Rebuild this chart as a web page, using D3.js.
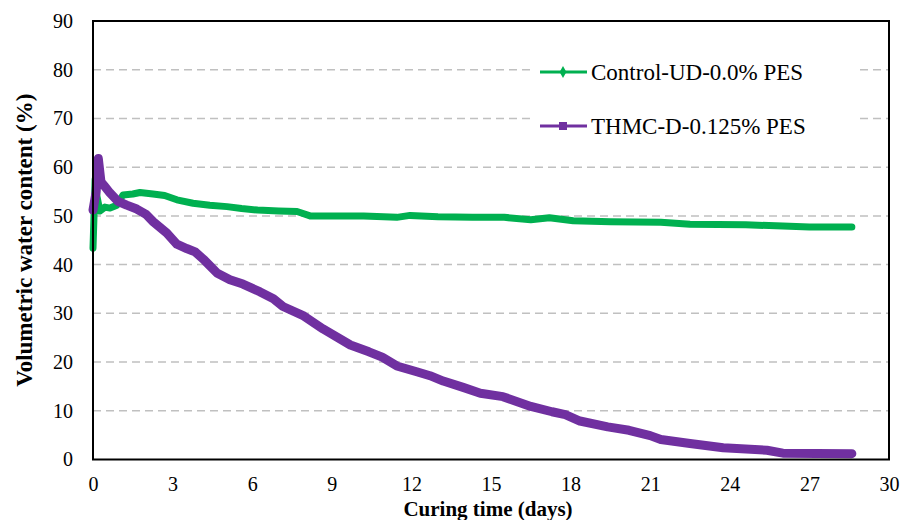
<!DOCTYPE html>
<html>
<head>
<script src="https://d3js.org/d3.v7.min.js"></script>
<style>
  body { margin: 0; background: #fff; }
  .grid line { stroke: #c0c0c0; stroke-width: 1.5px; stroke-dasharray: 8,5; }
  .tick text { font-size: 20px; fill: #000; }
  .title { font-size: 23px; font-weight: bold; }
</style>
</head>
<body>
<div id="chart"></div>
<script>
// data
const controlDays = [0, 0.08, 0.15, 0.26, 0.45, 0.64, 0.9, 1.13, 1.5, 1.77, 2.26, 2.7, 3.16, 3.77, 4.4, 5.05, 5.6, 6.2, 7.0, 7.69, 8.18, 9.0, 10.2, 11.45, 11.95, 13.0, 14.3, 15.5, 16.5, 17.2, 18.1, 19.5, 21.4, 22.5, 24.6, 26.0, 27.0, 28.6];
const controlVals = [43.4, 57.5, 54, 51, 51.8, 51.6, 52.2, 54.3, 54.5, 54.8, 54.5, 54.2, 53.3, 52.6, 52.2, 51.9, 51.5, 51.2, 51.0, 50.9, 50.0, 50.0, 50.0, 49.7, 50.1, 49.8, 49.7, 49.7, 49.2, 49.6, 49.0, 48.8, 48.7, 48.3, 48.2, 47.9, 47.7, 47.7];

const thmcDays = [0, 0.12, 0.2, 0.3, 0.45, 0.64, 0.94, 1.27, 1.65, 2.0, 2.27, 2.78, 3.16, 3.53, 3.85, 4.2, 4.67, 5.16, 5.65, 6.3, 6.8, 7.16, 7.9, 8.67, 9.7, 10.4, 10.9, 11.45, 12.2, 12.7, 13.2, 13.95, 14.6, 15.45, 16.5, 17.3, 17.8, 18.35, 19.4, 20.2, 21.0, 21.4, 22.5, 23.75, 25.4, 26.0, 28.6];
const thmcVals = [51.2, 55, 61.8, 57, 56, 54.7, 53, 52.2, 51.4, 50.3, 48.8, 46.5, 44.2, 43.3, 42.6, 40.9, 38.3, 36.9, 36.0, 34.4, 33.0, 31.4, 29.6, 26.8, 23.5, 22.1, 21.0, 19.2, 18.0, 17.2, 16.1, 14.8, 13.6, 12.9, 10.9, 9.8, 9.2, 7.9, 6.7, 6.0, 4.9, 4.1, 3.3, 2.4, 1.9, 1.3, 1.2];

const xTicks = [0, 3, 6, 9, 12, 15, 18, 21, 24, 27, 30];
const yTicks = [0, 10, 20, 30, 40, 50, 60, 70, 80, 90];
const seriesNames = ["Control-UD-0.0% PES", "THMC-D-0.125% PES"];
const colors = ["#00b050", "#7030a0"];

const FONT = "'Times New Roman', Times, 'Liberation Serif', 'DejaVu Serif', serif";
const W = 914, H = 520;
const margin = {top: 21, right: 25, bottom: 60.5, left: 93};
const width = W - margin.left - margin.right,
      height = H - margin.top - margin.bottom;

const svg = d3.select("#chart").append("svg")
  .attr("width", W).attr("height", H)
  .attr("font-family", FONT);
const g = svg.append("g")
  .attr("transform", "translate(" + margin.left + "," + margin.top + ")");

const x = d3.scaleLinear().domain([0, 30]).range([0, width]);
const y = d3.scaleLinear().domain([0, 90]).range([height, 0]);

// gridlines
g.append("g").attr("class", "grid")
  .selectAll("line")
  .data(yTicks.filter(d => d > 0 && d < 90))
  .enter().append("line")
  .attr("x1", 0).attr("x2", width)
  .attr("y1", d => y(d)).attr("y2", d => y(d));

// axes (no tick marks)
const xAxis = g.append("g")
  .attr("transform", "translate(0," + height + ")")
  .call(d3.axisBottom(x).tickValues(xTicks).tickSize(0).tickPadding(17))
  .attr("font-family", FONT);
xAxis.select(".domain").remove();

const yAxis = g.append("g")
  .call(d3.axisLeft(y).tickValues(yTicks).tickSize(0).tickPadding(20))
  .attr("font-family", FONT);
yAxis.select(".domain").remove();

// legend box (covers the gridlines)
const leg = g.append("g");
leg.append("rect")
  .attr("x", 530 - margin.left).attr("y", 45 - margin.top)
  .attr("width", 328).attr("height", 105)
  .attr("fill", "#fff");

// series
const line = d3.line()
  .x(d => x(d[0]))
  .y(d => y(d[1]));

const series = [
  d3.zip(controlDays, controlVals),
  d3.zip(thmcDays, thmcVals)
];
const widths = [7, 9];

series.forEach((s, i) => {
  g.append("path")
    .datum(s)
    .attr("fill", "none")
    .attr("stroke", colors[i])
    .attr("stroke-width", widths[i])
    .attr("stroke-linejoin", "round")
    .attr("stroke-linecap", "round")
    .attr("d", line);
});

// plot frame
g.append("rect")
  .attr("width", width).attr("height", height)
  .attr("fill", "none").attr("stroke", "#000").attr("stroke-width", 2);

// legend entries
seriesNames.forEach((name, i) => {
  const ly = [72, 126][i] - margin.top;
  const lx = 540 - margin.left;
  leg.append("line")
    .attr("x1", lx).attr("x2", lx + 47)
    .attr("y1", ly).attr("y2", ly)
    .attr("stroke", colors[i]).attr("stroke-width", 3);
  if (i === 0) {
    leg.append("path")
      .attr("d", d3.symbol(d3.symbolDiamond, 40)())
      .attr("transform", "translate(" + (lx + 23) + "," + ly + ")")
      .attr("fill", colors[i]);
  } else {
    leg.append("rect")
      .attr("x", lx + 19).attr("y", ly - 4)
      .attr("width", 8).attr("height", 8)
      .attr("fill", colors[i]);
  }
  leg.append("text")
    .attr("x", lx + 51).attr("y", ly + 7.5)
    .attr("font-size", 23)
    .text(name);
});

// axis titles
svg.append("text").attr("class", "title")
  .attr("x", margin.left + width / 2 - 3).attr("y", 515.5)
  .attr("text-anchor", "middle")
  .style("font-size", "21px")
  .text("Curing time (days)");

svg.append("text").attr("class", "title")
  .attr("transform", "translate(32," + (margin.top + height / 2) + ") rotate(-90)")
  .attr("text-anchor", "middle")
  .text("Volumetric water content (%)");
</script>
</body>
</html>
